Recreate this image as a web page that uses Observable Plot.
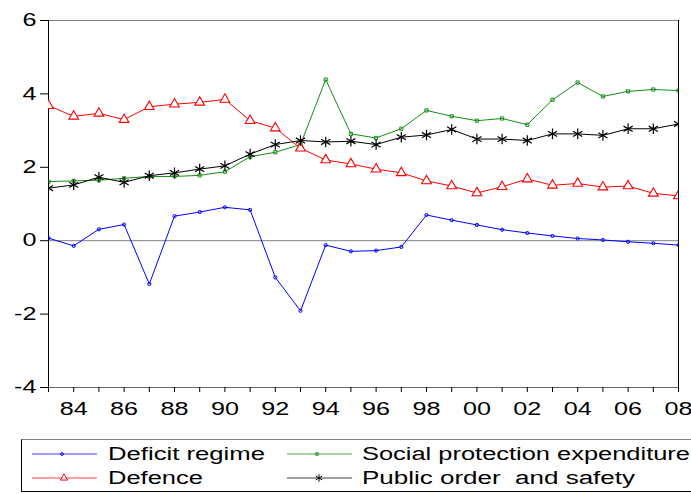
<!DOCTYPE html>
<html>
<head>
<meta charset="utf-8">
<script src="https://cdn.jsdelivr.net/npm/d3@7"></script>
<script src="https://cdn.jsdelivr.net/npm/@observablehq/plot@0.6"></script>
<style>
  body { margin: 0; background: #fff; font-family: "Liberation Sans", Arial, sans-serif; }
  #chart svg { display: block; }
</style>
</head>
<body>
<div id="chart"></div>
<script>
const years = [1983,1984,1985,1986,1987,1988,1989,1990,1991,1992,1993,1994,1995,1996,1997,1998,1999,2000,2001,2002,2003,2004,2005,2006,2007,2008];
const deficit = [0.07,-0.14,0.31,0.44,-1.18,0.67,0.78,0.91,0.84,-1.0,-1.91,-0.12,-0.29,-0.27,-0.17,0.70,0.56,0.43,0.30,0.21,0.13,0.06,0.02,-0.03,-0.07,-0.12];
const defence = [3.68,3.39,3.47,3.30,3.65,3.72,3.77,3.85,3.27,3.07,2.52,2.20,2.09,1.95,1.85,1.63,1.49,1.30,1.47,1.68,1.51,1.56,1.46,1.49,1.29,1.22];
const social = [1.61,1.63,1.65,1.70,1.75,1.75,1.78,1.88,2.29,2.41,2.62,4.39,2.91,2.80,3.05,3.55,3.39,3.27,3.33,3.16,3.84,4.31,3.93,4.07,4.12,4.09];
const publicOrder = [1.43,1.52,1.73,1.59,1.77,1.85,1.95,2.04,2.36,2.62,2.73,2.69,2.71,2.62,2.82,2.88,3.03,2.77,2.77,2.73,2.91,2.91,2.87,3.05,3.05,3.18];
const yTicks = [-4,-2,0,2,4,6];
const xLabelYears = [1984,1986,1988,1990,1992,1994,1996,1998,2000,2002,2004,2006,2008];

const series = [
  {name: "Deficit regime", values: deficit, color: "#0000ff", symbol: "circle", r: 1.6, fill: "none", sw: 1, len: 157},
  {name: "Social protection expenditure", values: social, color: "#168c16", symbol: "square", r: 1.8, fill: "none", sw: 1, len: 328},
  {name: "Defence", values: defence, color: "#ff0000", symbol: "triangle", r: 3.6, fill: "white", sw: 1.1, len: 95},
  {name: "Public order  and safety", values: publicOrder, color: "#000000", symbol: "asterisk", r: 5, fill: "none", sw: 1.2, len: 273}
];

const rows = [];
for (const s of series) years.forEach((yr, i) => rows.push({year: yr, value: s.values[i], name: s.name}));

const marks = [
  Plot.ruleY([0], {stroke: "#808080", strokeWidth: 1}),
  Plot.ruleY([6], {stroke: "#808080", strokeWidth: 1}),
  Plot.ruleX([2008], {stroke: "#000", strokeWidth: 1}),
  Plot.ruleX([1983], {stroke: "#000", strokeWidth: 1}),
  Plot.ruleY([-4], {stroke: "#666", strokeWidth: 1}),
  Plot.axisY(yTicks, {tickSize: 8, tickPadding: 4, fontSize: 18, tickFormat: d => String(d), stroke: "#000"}),
  Plot.axisX(years, {tickSize: 5, tickFormat: () => "", stroke: "#000"}),
  Plot.axisX(xLabelYears, {tickSize: 0, tickPadding: 15, fontSize: 18, tickFormat: d => String(d % 100).padStart(2, "0")})
];
for (const s of series) {
  const data = rows.filter(r => r.name === s.name);
  marks.push(Plot.line(data, {x: "year", y: "value", stroke: s.color, strokeWidth: 1, clip: true}));
}
for (const s of series) {
  const data = rows.filter(r => r.name === s.name);
  marks.push(Plot.dot(data, {x: "year", y: "value", stroke: s.color, fill: s.fill, symbol: s.symbol, r: s.r, strokeWidth: s.sw, clip: true}));
}

const plot = Plot.plot({
  width: 691,
  height: 430,
  marginTop: 20,
  marginLeft: 48,
  marginRight: 13,
  marginBottom: 43,
  style: {fontFamily: "'Liberation Sans', Arial, sans-serif", color: "#000", background: "#fff"},
  x: {domain: [1983, 2008], label: null},
  y: {domain: [-4, 6], label: null},
  marks
});
document.getElementById("chart").appendChild(plot);

// Widen tick label glyphs horizontally (the reference text is stretched)
const K = 1.4;
plot.querySelectorAll("text").forEach(t => {
  const xa = t.getAttribute("x");
  if (xa != null && xa !== "") t.setAttribute("x", String(parseFloat(xa) / K));
  const tr = t.getAttribute("transform") || "";
  t.setAttribute("transform", (tr + ` scale(${K},1)`).trim());
});

// Legend below the plot
const leg = d3.select("#chart").append("svg").attr("width", 691).attr("height", 64)
  .style("font-family", "'Liberation Sans', Arial, sans-serif");
leg.append("rect").attr("x", 21.5).attr("y", 9.5).attr("width", 700).attr("height", 52)
  .attr("fill", "none").attr("stroke", "#000").attr("stroke-width", 1);
leg.append("line").attr("x1", 21.5).attr("x2", 691).attr("y1", 9.5).attr("y2", 9.5).attr("stroke", "#808080");
const symMap = {circle: d3.symbolCircle, square: d3.symbolSquare, triangle: d3.symbolTriangle, asterisk: d3.symbolAsterisk};
const layout = [
  {s: series[0], x0: 32, x1: 97, mx: 62, tx: 108, y: 24},
  {s: series[1], x0: 287, x1: 352, mx: 317, tx: 362, y: 24},
  {s: series[2], x0: 32, x1: 97, mx: 64, tx: 108, y: 48},
  {s: series[3], x0: 287, x1: 352, mx: 319, tx: 362, y: 48}
];
for (const l of layout) {
  leg.append("line").attr("x1", l.x0).attr("x2", l.x1).attr("y1", l.y).attr("y2", l.y)
    .attr("stroke", l.s.color).attr("stroke-opacity", 0.5).attr("stroke-width", 1.5);
  const area = l.s.symbol === "triangle" ? 22 : (l.s.symbol === "asterisk" ? 40 : 6);
  leg.append("path").attr("d", d3.symbol(symMap[l.s.symbol], area)())
    .attr("transform", `translate(${l.mx},${l.y})`)
    .attr("fill", l.s.fill).attr("stroke", l.s.color).attr("stroke-width", 1);
  leg.append("text").attr("x", l.tx).attr("y", l.y).attr("dy", "0.36em")
    .attr("font-size", 18).attr("fill", "#000")
    .attr("textLength", l.s.len).attr("lengthAdjust", "spacingAndGlyphs")
    .style("white-space", "pre")
    .text(l.s.name);
}
</script>
</body>
</html>
